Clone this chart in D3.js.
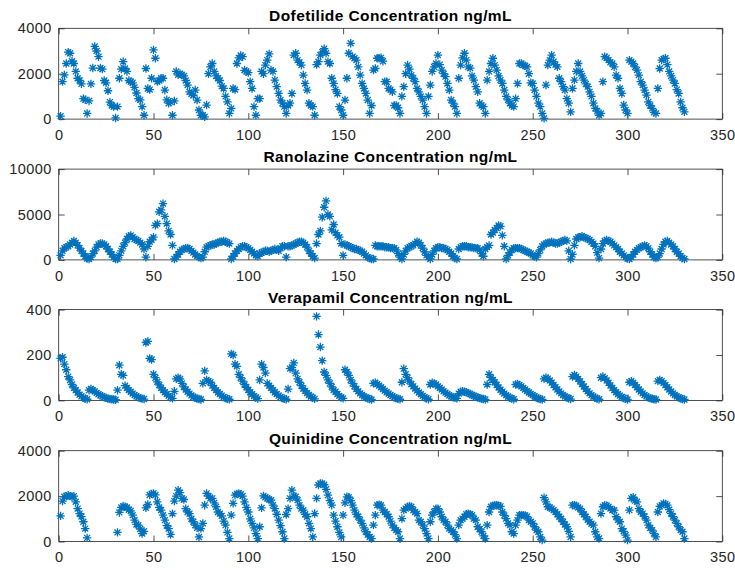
<!DOCTYPE html>
<html>
<head>
<meta charset="utf-8">
<script src="https://cdn.jsdelivr.net/npm/d3@7"></script>
<style>
  body { margin: 0; background: #fff; }
  svg { display: block; font-family: "Liberation Sans", Arial, Helvetica, sans-serif; }
</style>
</head>
<body>
<div id="chart"></div>
<script>
// concentration per sample (sample number = position in the array, starting at 1)
// each line is one 15-sample dosing interval
const dofetilide = [
  130,1650,1950,2450,2950,2900,2550,2450,2100,1800,1700,1550,900,850,250,
  800,1550,2250,3200,3000,2750,2250,2200,1700,1600,1250,750,600,550,50,
  550,1800,2200,2530,2230,2100,1700,1650,1600,1400,1150,900,850,550,170,
  2230,1350,1300,1800,3050,2680,1650,1700,1800,1800,1280,850,700,750,170,
  800,2100,1950,2000,1950,1900,1700,1500,1200,1100,1050,1280,840,400,170,
  170,100,620,2000,2300,2450,2100,1900,1800,1700,1450,1350,1000,760,250,
  470,1350,1300,2450,2700,2800,2750,2150,2100,2050,1650,1350,550,170,900,
  900,2100,2000,2380,2600,2870,2160,2100,1720,1430,1130,840,700,550,250,
  600,700,1130,2820,2900,2600,2500,2380,1940,1570,1280,700,600,550,170,
  2400,2530,2820,2950,3100,2900,2530,2450,1800,1570,1300,1130,550,400,170,
  840,1800,2900,3340,2750,2680,2600,2300,1940,1570,1350,1130,840,250,600,
  2160,2230,2680,2680,2700,2550,1650,1650,1350,1300,1200,600,600,500,250,
  1000,1430,2000,2380,2200,1940,1800,1650,1350,1200,1000,840,550,250,1000,
  1500,2100,2300,2450,2820,2400,2160,2000,1870,1570,1280,840,700,550,250,
  1800,2380,2700,2900,2600,2300,2250,1900,1720,1430,1200,700,600,550,250,
  1720,2100,2450,2680,2380,2160,1900,1720,1570,1280,1000,850,700,600,550,
  900,1570,2450,2450,2380,2350,2300,2000,1600,1570,1280,1000,700,550,250,
  30,1500,2380,2600,2820,2530,2400,2300,1800,1650,1430,1280,900,700,320,
  1350,1720,2100,2450,2100,1900,1720,1550,1430,1200,1000,700,470,350,170,
  250,1650,2750,2700,2600,2500,2450,2300,1940,1800,1350,1130,620,400,250,
  2600,2530,2450,2300,2160,1940,1650,1500,1280,1060,760,600,470,300,250,
  1350,2230,2600,2650,2680,2400,2100,1900,1720,1570,1300,1130,760,500,320
];

const ranolazine = [
  500,1000,1300,1400,1500,1700,1900,2100,1900,1600,1300,1000,700,400,150,
  100,300,700,1000,1400,1700,1800,1800,1700,1500,1200,900,600,300,100,
  100,500,1000,1500,1900,2300,2600,2700,2500,2300,2200,2100,1900,1700,1200,
  300,1500,2000,2200,2500,3800,4000,5300,5500,6200,4800,4000,3200,2800,1600,
  100,300,600,900,1100,1200,1300,1300,1200,1000,800,600,450,300,200,
  300,900,1400,1500,1600,1700,1700,1800,1900,2000,2000,2100,2000,1900,1800,
  100,400,700,1000,1200,1400,1500,1500,1400,1300,1100,900,700,500,400,
  700,800,900,1000,1000,900,1000,1100,1200,1100,1000,1300,1500,1500,300,
  1500,1500,1600,1700,1800,1900,2000,2000,1900,1700,1400,1000,700,400,200,
  1800,2800,3200,4700,5800,6500,5000,4800,3300,3900,3000,2700,2500,1800,500,
  1700,1600,1500,1400,1300,1200,1200,1100,1000,900,700,500,300,200,100,
  100,1600,1500,1500,1500,1500,1400,1400,1400,1300,1300,1300,1100,700,300,
  100,600,1000,1300,1400,1500,1600,1800,2000,1900,1600,1300,900,500,300,
  100,600,1000,1300,1400,1400,1300,1300,1200,1100,900,700,400,200,100,
  1200,1400,1500,1500,1500,1400,1400,1400,1300,1300,1300,1100,700,400,1200,
  1400,1600,2800,3000,3300,3500,3800,3700,2700,1500,100,500,800,1100,1300,
  1300,1300,1300,1200,1100,1000,900,800,700,500,400,300,700,1100,1500,
  1700,1800,1900,1900,2000,1900,1800,1800,1900,2000,2100,2200,2100,1000,100,
  600,1600,2300,2500,2500,2600,2500,2400,2300,2200,2000,1800,1500,800,200,
  1200,1800,2100,2200,2100,2000,1800,1600,1400,1200,900,700,500,300,150,
  100,300,600,900,1100,1300,1400,1500,1600,1500,1300,900,600,300,200,
  300,700,1200,1700,2000,2100,1900,1700,1500,1200,900,700,400,200,100
];

const verapamil = [
  185,190,160,135,105,90,70,55,45,35,25,18,12,8,5,
  45,50,45,40,33,27,22,18,14,11,8,6,5,4,3,
  45,155,115,110,65,55,45,38,30,24,18,14,10,8,6,
  255,260,185,180,115,100,82,68,55,45,36,28,20,14,9,
  40,95,100,95,75,60,48,38,30,22,16,12,8,6,4,
  75,130,90,85,80,65,55,45,36,28,21,15,10,7,5,
  205,200,160,150,115,100,85,70,58,46,36,27,19,13,8,
  90,160,145,120,75,65,55,45,36,28,21,15,10,7,5,
  50,140,145,165,120,95,80,65,52,42,32,24,17,11,7,
  370,290,235,175,125,110,90,75,60,45,38,28,20,14,9,
  135,125,110,90,75,62,50,40,31,24,18,13,9,6,4,
  75,78,72,65,58,50,43,36,30,24,19,14,10,7,5,
  80,140,115,100,85,72,62,52,43,35,27,20,14,9,5,
  70,78,75,70,62,55,48,40,34,28,22,18,14,11,9,
  30,38,40,38,36,32,28,24,20,16,13,10,8,6,4,
  70,115,100,90,80,68,57,47,38,30,23,17,12,8,5,
  70,72,68,62,55,48,41,35,29,23,18,13,9,6,4,
  95,100,96,88,78,68,58,48,39,31,24,18,13,9,6,
  105,112,105,95,84,72,61,50,40,31,23,17,12,8,5,
  100,105,98,88,77,66,55,45,36,28,21,15,10,7,4,
  80,85,78,68,58,48,39,31,24,18,13,10,7,5,4,
  85,90,85,77,68,58,48,39,31,24,18,13,9,6,4
];

const quinidine = [
  1130,1780,1970,2000,2040,2000,1970,2000,1750,1450,1230,1100,870,570,160,
  null,null,null,null,null,null,null,null,null,null,null,null,null,null,null,
  400,1280,1500,1550,1530,1500,1400,1350,1160,940,750,720,550,350,450,
  1480,1630,2050,2100,2120,2050,1750,1500,1380,1160,940,700,570,310,1230,
  1780,2000,2260,2150,1900,1850,1450,1300,1230,1000,870,720,600,200,570,
  800,1600,2120,2000,1900,1900,1700,1530,1300,1230,1130,900,720,400,130,
  1160,1680,2040,2100,2120,2080,2000,1750,1500,1300,1000,800,600,350,130,
  650,1480,2010,1950,1900,1850,1820,1600,1450,1200,940,700,430,130,1190,
  1450,1900,2260,2000,1970,1820,1600,1450,1380,1200,1090,800,570,200,1230,
  1900,2490,2560,2550,2500,2300,2040,1800,1600,1160,900,650,400,200,1160,
  1700,1970,1950,1800,1600,1380,1200,1090,940,800,600,430,300,200,130,
  720,1160,1600,1620,1600,1380,1300,1200,1090,900,720,600,500,430,130,
  1010,1380,1450,1530,1550,1530,1380,1300,1230,940,870,720,570,350,130,
  870,1160,1300,1450,1450,1300,1090,940,870,720,570,500,430,300,130,
  720,940,1000,1090,1200,1230,1200,1160,1000,940,650,550,430,250,130,
  720,1300,1530,1580,1600,1600,1580,1550,1300,1150,1010,800,720,430,350,
  720,940,1160,1160,1160,1150,1100,940,870,800,650,500,430,200,60,
  1930,1750,1530,1500,1450,1380,1300,1200,1090,1000,870,750,650,450,200,
  1600,1600,1580,1500,1450,1300,1200,1090,950,870,780,720,430,200,130,
  1230,1530,1600,1580,1530,1450,1380,1380,1090,950,870,570,450,280,60,
  1380,1900,1950,1800,1750,1450,1300,1230,1100,940,720,600,500,350,200,
  1300,1550,1600,1680,1650,1600,1400,1230,1100,940,800,650,500,430,130
];

const titles = [
  "Dofetilide Concentration ng/mL",
  "Ranolazine Concentration ng/mL",
  "Verapamil Concentration ng/mL",
  "Quinidine Concentration ng/mL"
];
const xTicks = [0, 50, 100, 150, 200, 250, 300, 350];
const dofTicks = [0, 2000, 4000];
const ranTicks = [0, 5000, 10000];
const verTicks = [0, 200, 400];
const quiTicks = [0, 2000, 4000];

// layout
const w = 735, h = 570;
const left = 58.7, right = 722.3;
const tops = [28.3, 169.1, 309.6, 450.7];
const ph = 90.8;
const tickLen = 6;
const blue = "#0072bd";
const axisCol = "#262626";

const panels = [
  { title: titles[0], values: dofetilide, ticks: dofTicks },
  { title: titles[1], values: ranolazine, ticks: ranTicks },
  { title: titles[2], values: verapamil, ticks: verTicks },
  { title: titles[3], values: quinidine, ticks: quiTicks }
];

const svg = d3.select("#chart")
  .append("svg")
  .attr("width", w)
  .attr("height", h);

const xScale = d3.scaleLinear()
  .domain([0, 350])
  .range([left, right]);

// MATLAB '*' marker
const r = 4.2, rd = r * 0.7071;
const star = `M${-r},0H${r}M0,${-r}V${r}M${-rd},${-rd}L${rd},${rd}M${-rd},${rd}L${rd},${-rd}`;

panels.forEach((p, k) => {
  const top = tops[k];
  const bottom = top + ph;
  const yMax = p.ticks[p.ticks.length - 1];

  const yScale = d3.scaleLinear()
    .domain([0, yMax])
    .range([bottom, top]);

  const g = svg.append("g");

  const xAxis = d3.axisBottom(xScale)
    .tickValues(xTicks)
    .tickFormat(d3.format("d"))
    .tickSizeInner(-tickLen)
    .tickSizeOuter(0)
    .tickPadding(10.5);
  const xAxisTop = d3.axisTop(xScale)
    .tickValues(xTicks)
    .tickSizeInner(-tickLen)
    .tickSizeOuter(0)
    .tickFormat("");
  const yAxis = d3.axisLeft(yScale)
    .tickValues(p.ticks)
    .tickFormat(d3.format("d"))
    .tickSizeInner(-tickLen)
    .tickSizeOuter(0)
    .tickPadding(7);
  const yAxisRight = d3.axisRight(yScale)
    .tickValues(p.ticks)
    .tickSizeInner(-tickLen)
    .tickSizeOuter(0)
    .tickFormat("");

  g.append("g").attr("transform", `translate(0,${bottom})`).call(xAxis);
  g.append("g").attr("transform", `translate(0,${top})`).call(xAxisTop);
  g.append("g").attr("transform", `translate(${left},0)`).call(yAxis);
  g.append("g").attr("transform", `translate(${right},0)`).call(yAxisRight);

  g.selectAll(".domain").remove();
  g.selectAll(".tick line").attr("stroke", axisCol).attr("stroke-width", 0.8);
  g.selectAll(".tick text")
    .attr("fill", axisCol)
    .style("font-size", "14.5px")
    .style("letter-spacing", "0.4px")
    .style("font-family", "\"Liberation Sans\", Arial, Helvetica, sans-serif");

  g.append("rect")
    .attr("x", left)
    .attr("y", top)
    .attr("width", right - left)
    .attr("height", ph)
    .attr("fill", "none")
    .attr("stroke", axisCol)
    .attr("stroke-width", 0.8);

  g.append("text")
    .attr("x", (left + right) / 2)
    .attr("y", top - 7)
    .attr("text-anchor", "middle")
    .attr("font-size", "15.5px")
    .attr("font-weight", "bold")
    .style("letter-spacing", "0.4px")
    .attr("fill", "#000")
    .text(p.title);

  const pts = p.values
    .map((v, i) => ({ n: i + 1, v: v }))
    .filter(d => d.v !== null);

  g.append("g")
    .selectAll("path")
    .data(pts)
    .enter()
    .append("path")
    .attr("d", star)
    .attr("transform", d => `translate(${xScale(d.n)},${yScale(d.v)})`)
    .attr("fill", "none")
    .attr("stroke", blue)
    .attr("stroke-width", 1.3);
});
</script>
</body>
</html>
